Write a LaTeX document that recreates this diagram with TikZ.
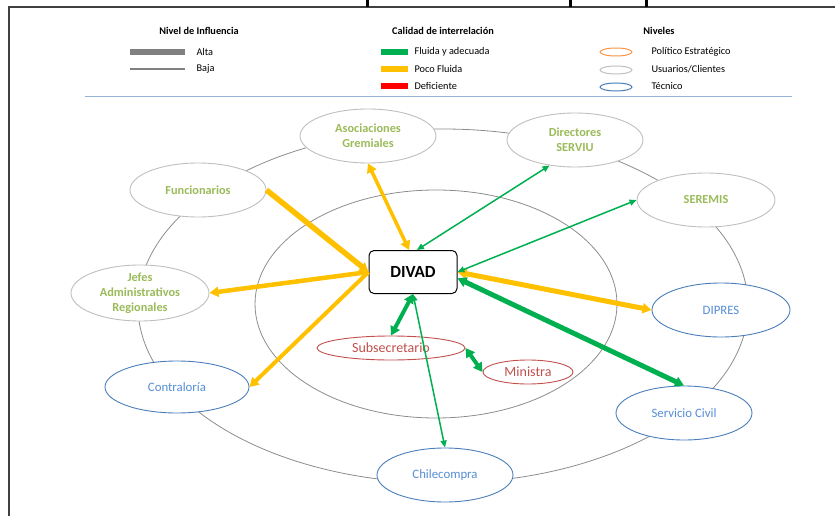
\documentclass[tikz,border=0pt]{standalone}
\usepackage{fontspec}
\setmainfont{Carlito}
\usetikzlibrary{arrows.meta, shapes.geometric}
\definecolor{FrameGrey}{RGB}{64, 64, 64}
\definecolor{RingGrey}{RGB}{140, 140, 140}
\definecolor{UserGrey}{RGB}{191, 191, 191}
\definecolor{UserText}{RGB}{155, 187, 89}
\definecolor{TecBlue}{RGB}{74, 126, 187}
\definecolor{TecText}{RGB}{85, 142, 213}
\definecolor{PolRed}{RGB}{192, 80, 77}
\definecolor{PolOrange}{RGB}{247, 150, 70}
\definecolor{FluidGreen}{RGB}{0, 176, 80}
\definecolor{PocoYellow}{RGB}{255, 192, 0}
\definecolor{DefRed}{RGB}{255, 0, 0}
\definecolor{LegGrey}{RGB}{128, 128, 128}
\definecolor{RuleBlue}{RGB}{149, 179, 215}
\newcommand{\legfont}{\fontsize{10.3}{12}\selectfont}
\newcommand{\actorfont}{\fontsize{12.3}{15}\selectfont}
\tikzset{
  leghead/.style={font=\legfont\bfseries},
  legtext/.style={font=\legfont, anchor=west},
  actor/.style={
    ellipse, draw=#1, fill=white, line width=0.9pt, inner sep=0pt,
    align=center, minimum width=136pt, minimum height=54pt
  },
  usuario/.style={actor=UserGrey, text=UserText, font=\actorfont\bfseries},
  tecnico/.style={actor=TecBlue, text=TecText, font=\fontsize{12.8}{15}\selectfont},
  politico/.style={actor=PolRed, text=PolRed, font=\fontsize{14}{16}\selectfont, minimum height=24pt},
  divadbox/.style={
    rectangle, rounded corners=5pt, draw=black, fill=white, line width=1pt,
    minimum width=88pt, minimum height=43pt, font=\fontsize{17}{19}\selectfont\bfseries
  },
  alta/.style={line width=#1, >={Triangle[length=9pt, width=10pt]}},
  alta/.default=4.5pt,
  baja/.style={line width=1.5pt, >={Triangle[length=7pt, width=6pt]}},
  fluida/.style={draw=FluidGreen},
  poco/.style={draw=PocoYellow},
  ring/.style={draw=RingGrey, line width=0.8pt},
}

\begin{document}
\begin{tikzpicture}[x=1pt, y=-1pt]
\useasboundingbox (0,0) rectangle (835,516);

% Frame
\draw[FrameGrey, line width=1.4pt] (835,7) -- (9,7) -- (9,516);
\draw[black, line width=3pt] (367,0) -- (367,7);
\draw[black, line width=3pt] (570,0) -- (570,7);
\draw[black, line width=3pt] (646,0) -- (646,7);

% Legend
\node[leghead] (nivinf) at (199,31) {Nivel de Influencia};
\draw[LegGrey, line width=6pt] (130,52) -- (185,52);
\node[legtext] (alta) at (193,52) {Alta};
\draw[LegGrey, line width=2pt] (130,69) -- (185,69);
\node[legtext] (baja) at (193,69) {Baja};

\node[leghead] (calidad) at (443,31) {Calidad de interrelación};
\draw[FluidGreen, line width=6pt] (381,52) -- (408,52);
\node[legtext] (fluida) at (411,52) {Fluida y adecuada};
\draw[PocoYellow, line width=6pt] (381,69) -- (408,69);
\node[legtext] (poco) at (411,69) {Poco Fluida};
\draw[DefRed, line width=6pt] (381,86) -- (408,86);
\node[legtext] (deficiente) at (411,86) {Deficiente};

\node[leghead] (niveles) at (659,31) {Niveles};
\draw[PolOrange, line width=1pt] (616,52) ellipse [x radius=16pt, y radius=4pt];
\node[legtext] (politico) at (648,52) {Político Estratégico};
\draw[UserGrey, line width=1pt] (616,70) ellipse [x radius=16pt, y radius=4pt];
\node[legtext] (usuarios) at (648,69) {Usuarios/Clientes};
\draw[TecBlue, line width=1pt] (616,87) ellipse [x radius=16pt, y radius=4pt];
\node[legtext] (tecnico) at (648,86) {Técnico};

\draw[RuleBlue, line width=1pt] (85,97) -- (792,97);

% Rings
\draw[ring] (443,306) ellipse [x radius=305pt, y radius=177pt];
\draw[ring] (436,304) ellipse [x radius=181pt, y radius=114pt];

% Actors
\node[usuario] (asoc) at (368,136) {Asociaciones\\Gremiales};
\node[usuario] (serviu) at (575,140) {Directores\\SERVIU};
\node[usuario, minimum width=138pt] (seremis) at (706,200) {SEREMIS};
\node[usuario] (func) at (198,190) {Funcionarios};
\node[usuario, minimum width=138pt, minimum height=56pt, inner ysep=-3pt] (jefes) at (140,293) {Jefes\\Administrativos\\Regionales};
\node[tecnico, minimum width=138pt] (dipres) at (721,310) {DIPRES};
\node[tecnico] (civil) at (684,413) {Servicio Civil};
\node[tecnico] (chile) at (445,475) {Chilecompra};
\node[tecnico, minimum width=144pt, minimum height=52pt] (contra) at (177,387) {Contraloría};
\node[politico, minimum width=148pt] (subse) at (391,348) {Subsecretario};
\node[politico, minimum width=90pt] (minis) at (528,372) {Ministra};
\node[divadbox] (divad) at (413,272) {DIVAD};

% Poco fluida
\draw[alta=5.5pt, poco, ->] (func.east) -- (divad.west);
\draw[alta=4.5pt, poco, ->] (divad.west) -- (jefes.east);
\draw[alta=4pt, poco, ->] (divad.west) -- (contra.east);
\draw[alta=3.5pt, poco, <->] (asoc.south) -- (divad.100);
\draw[alta=5pt, poco, <->] (divad.east) -- (dipres.west);

% Fluida y adecuada
\draw[baja, fluida, <->] (divad.80) -- (serviu.-135);
\draw[baja, fluida, <->] (divad.east) -- (seremis.west);
\draw[alta=5pt, fluida, <->] (divad.-8) -- (civil.north);
\draw[alta=4pt, fluida, <->] (divad.south) -- (subse.north);
\draw[baja, fluida, <->] (divad.south) -- (chile.north);
\draw[alta=4pt, fluida, <->] (subse.east) -- (minis.west);
\end{tikzpicture}
\end{document}
